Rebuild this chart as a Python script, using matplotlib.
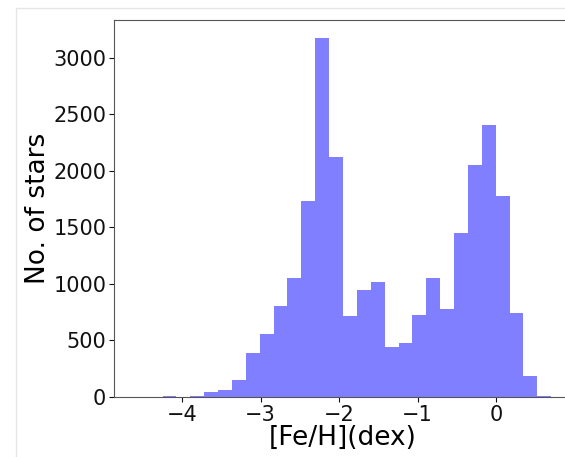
import numpy as np
import matplotlib
matplotlib.use("Agg")
import matplotlib.pyplot as plt
from matplotlib.lines import Line2D

# Histogram data: 30 bins of [Fe/H] from -4.6 to 0.7 dex
bin_lo = -4.6
bin_hi = 0.7
n_bins = 30
counts = [3, 1, 8, 2, 10, 40, 58, 153, 391, 553, 803, 1056, 1735, 3176, 2126,
          715, 947, 1015, 441, 476, 724, 1050, 779, 1450, 2056, 2403, 1782,
          744, 182, 12]
xticks = [-4, -3, -2, -1, 0]
yticks = [0, 500, 1000, 1500, 2000, 2500, 3000]

edges = np.linspace(bin_lo, bin_hi, n_bins + 1)
centers = 0.5 * (edges[:-1] + edges[1:])

fig = plt.figure(figsize=(5.65, 4.57), dpi=100)
# faint screenshot frame lines
fig.add_artist(Line2D([16/565, 16/565], [0, 1 - 8/457], color="#e6e6e6", lw=1))
fig.add_artist(Line2D([16/565, 1], [1 - 8/457, 1 - 8/457], color="#e6e6e6", lw=1))

ax = fig.add_axes([114/565, 60/457, 458/565, 377/457])
ax.hist(centers, bins=edges, weights=counts, color="blue", alpha=0.5)
ax.set_xticks(xticks)
ax.set_yticks(yticks)
ax.set_xticklabels(["\u2212" + str(abs(t)) if t < 0 else str(t) for t in xticks])
ax.tick_params(labelsize=15, colors="#111111", pad=2)
for s in ax.spines.values():
    s.set_color("#555555")
ax.set_xlabel("[Fe/H](dex)", fontsize=19, labelpad=0)
ax.set_ylabel("No. of stars", fontsize=19, labelpad=2)
fig.savefig("out.png", dpi=100)
